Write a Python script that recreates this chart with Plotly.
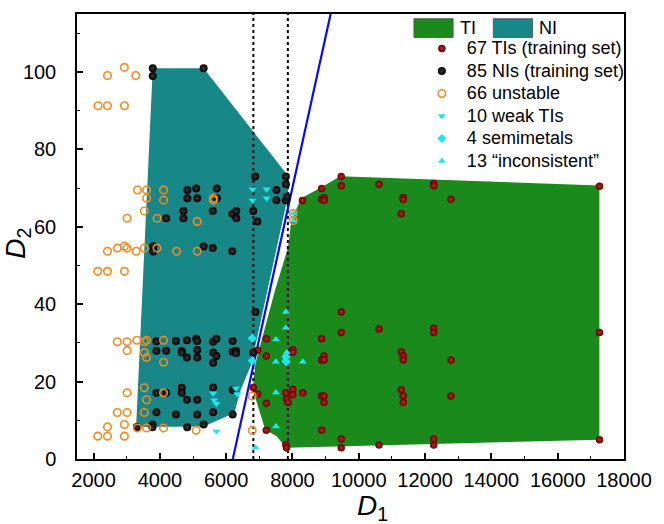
import plotly.graph_objects as go

# ---------------- data ----------------
# region boundaries (D1, D2)
ni_region_x = [3785, 5320, 7827, 7876, 6760, 6440, 6245, 5320, 3283]
ni_region_y = [101.0, 101.0, 73.6, 68.4, 24.5, 17.9, 11.9, 8.4, 8.3]
ti_region_x = [7817, 17257, 17257, 12833, 9440, 8850, 8260, 7965, 7867, 7473, 6882, 6800, 7177, 7522]
ti_region_y = [2.9, 5.0, 70.7, 72.0, 73.1, 70.1, 67.4, 61.6, 54.7, 43.6, 24.7, 18.0, 7.6, 5.9]

# boundary line and dotted thresholds
boundary_x = [6200, 9150]
boundary_y = [0, 115]
dotted_x1 = [6820, 6820]
dotted_x2 = [7860, 7860]
dotted_y = [0, 115]

# 67 TIs (training set)
ti_x = [7210, 6950, 7210, 8010, 8010, 6815, 6950, 7210, 7800, 7820, 7865, 8010, 8010, 8310,
        7210, 7800, 7820, 8880, 8950, 8880, 8950, 8880, 8950, 8950, 8880, 9470, 9470, 8880,
        8880, 8950, 8950, 8300, 10610, 12260, 12260, 11340, 11340, 11280, 12780, 9470, 9470,
        10610, 12260, 12260, 11280, 11340, 11340, 12780, 11280, 11340, 11340, 12780, 9470,
        9470, 10610, 12260, 12260, 17260, 17260, 17260]
ti_y = [31.1, 28.1, 26.6, 28.3, 27.6, 18.5, 16.8, 14.4, 17.1, 15.5, 14.6, 18.0, 16.6, 17.1,
        7.4, 3.7, 2.9, 31.1, 26.6, 25.6, 25.6, 16.3, 16.3, 14.6, 7.4, 73.0, 70.6, 69.9,
        67.1, 67.5, 66.8, 66.8, 71.0, 71.2, 70.6, 67.6, 67.1, 63.4, 67.1, 38.0, 32.7,
        33.6, 33.8, 32.7, 27.7, 26.6, 25.6, 25.6, 17.9, 16.3, 14.6, 16.3, 5.2,
        2.9, 3.6, 5.2, 3.6, 70.5, 32.7, 5.0]

# 85 NIs (training set)
ni_x = [3785, 3785, 5320, 6875, 7800, 7800, 4830, 5095, 5715, 4830, 5125, 5715, 7515, 7515,
        7800, 7830, 4710, 4190, 4710, 5595, 6185, 6305, 6305, 6815, 6940, 3800, 3800, 5320,
        5595, 6185, 3895, 4485, 4815, 5095, 5125, 3895, 4190, 4660, 4660, 5125, 4815, 5125,
        3895, 4190, 4660, 4660, 4815, 5125, 3895, 4485, 5125, 3305, 3775, 3775, 4825, 5320,
        5605, 5705, 6195, 5605, 5705, 5605, 6195, 6295, 6295, 6815, 6885, 5605, 6195, 5605,
        6195]
ni_y = [101.0, 99.0, 101.0, 73.0, 73.0, 71.0, 69.5, 69.9, 69.9, 67.4, 67.4, 67.4, 69.5, 66.9,
        66.9, 67.8, 64.1, 62.2, 62.2, 64.1, 63.4, 64.1, 62.2, 64.1, 61.4, 55.0, 53.6, 54.9,
        54.5, 53.7, 30.4, 30.5, 30.7, 31.1, 30.5, 28.0, 28.0, 27.9, 27.5, 28.2, 26.2, 26.2,
        17.1, 17.1, 18.4, 17.1, 15.3, 15.3, 12.1, 11.5, 11.5, 8.3, 8.9, 8.2, 8.2, 8.9,
        30.3, 31.1, 30.5, 27.5, 26.6, 24.9, 27.7, 28.0, 27.3, 27.5, 38.0, 18.5, 17.9, 12.1,
        11.5]

# 66 unstable
un_x = [2420, 2930, 3275, 2135, 2420, 2930, 3325, 3600, 4110, 3600, 4110, 5615, 5615, 3530,
        3010, 3915, 5125, 2420, 2715, 2930, 3010, 3285, 3530, 3915, 4505, 5125, 2125, 2420,
        2930, 8025, 8025, 2715, 3010, 3010, 3305, 3530, 3600, 4110, 3530, 3600, 4110, 3010,
        3530, 3600, 4110, 2715, 3010, 3530, 2420, 2930, 3325, 3600, 4110, 5095, 2125, 2420,
        2930, 6785, 6785]
un_y = [99.1, 101.2, 99.1, 91.3, 91.3, 91.3, 69.5, 69.5, 69.5, 67.4, 66.9, 67.4, 66.9, 64.1,
        62.2, 62.2, 61.4, 53.7, 54.5, 55.0, 54.5, 53.7, 54.5, 54.5, 53.7, 53.7, 48.5, 48.5,
        48.5, 63.5, 61.6, 30.3, 30.3, 28.0, 30.7, 30.3, 30.7, 30.7, 27.5, 26.2, 25.0, 17.1,
        18.4, 15.3, 17.1, 12.0, 12.0, 12.0, 8.3, 8.9, 8.0, 8.0, 8.0, 7.4, 5.9, 5.9,
        5.9, 16.3, 7.4]

# 10 weak TIs
weak_x = [6795, 7220, 6795, 7220, 5605, 5640, 5705, 6290, 6335, 5705]
weak_y = [69.7, 69.7, 66.9, 67.4, 17.0, 15.2, 14.3, 18.3, 16.8, 7.2]

# 4 semimetals
semi_x = [6785, 6785, 7800, 7810]
semi_y = [31.2, 25.4, 26.4, 25.1]

# 13 "inconsistent"
inc_x = [7800, 7800, 7500, 7500, 8310, 7500, 7500, 6885, 8025, 8025, 7830, 7800, 7790]
inc_y = [38.0, 33.9, 30.9, 25.1, 25.1, 17.2, 8.4, 2.9, 63.5, 61.6, 27.6, 26.9, 25.7]

x_ticks = [2000, 4000, 6000, 8000, 10000, 12000, 14000, 16000, 18000]
x_tick_labels = ["2000", "4000", "6000", "8000", "10000", "12000", "14000", "16000", "18000"]
y_ticks = [0, 20, 40, 60, 80, 100]
y_tick_labels = ["0", "20", "40", "60", "80", "100"]

legend_names = ["67 TIs (training set)", "85 NIs (training set)", "66 unstable",
                "10 weak TIs", "4 semimetals", "13 \u201cinconsistent\u201d"]

# ---------------- style ----------------
GREEN = "#1b8a1d"
TEAL = "#188787"
CYAN = "#1ee6ee"
ORANGE = "#f7891e"
FONT = "Liberation Sans, Arial, sans-serif"


def leg(name):
    return '<span style="font-size:18px">' + name + "</span>"


fig = go.Figure()

fig.add_trace(go.Scatter(x=ni_region_x, y=ni_region_y, fill="toself", fillcolor=TEAL,
                         mode="lines", line=dict(width=0, color=TEAL), showlegend=False,
                         hoverinfo="skip"))
fig.add_trace(go.Scatter(x=ti_region_x, y=ti_region_y, fill="toself", fillcolor=GREEN,
                         mode="lines", line=dict(width=0, color=GREEN), showlegend=False,
                         hoverinfo="skip"))
for dx in (dotted_x1, dotted_x2):
    fig.add_trace(go.Scatter(x=dx, y=dotted_y, mode="lines",
                             line=dict(color="black", width=2, dash="dot"),
                             showlegend=False, hoverinfo="skip"))
fig.add_trace(go.Scatter(x=boundary_x, y=boundary_y, mode="lines",
                         line=dict(color="#0a0aee", width=2.2), showlegend=False,
                         hoverinfo="skip"))

fig.add_trace(go.Scatter(x=ti_x, y=ti_y, mode="markers", name=leg(legend_names[0]),
                         marker=dict(size=7.5, color="#6a0000",
                                     gradient=dict(type="radial", color="#b02a2a"),
                                     line=dict(width=0))))
fig.add_trace(go.Scatter(x=ni_x, y=ni_y, mode="markers", name=leg(legend_names[1]),
                         marker=dict(size=8, color="#000000",
                                     gradient=dict(type="radial", color="#383838"),
                                     line=dict(width=0))))
fig.add_trace(go.Scatter(x=un_x, y=un_y, mode="markers", name=leg(legend_names[2]),
                         marker=dict(size=7.5, symbol="circle-open", color=ORANGE,
                                     line=dict(width=1.6, color=ORANGE))))
fig.add_trace(go.Scatter(x=weak_x, y=weak_y, mode="markers", name=leg(legend_names[3]),
                         marker=dict(size=7, symbol="triangle-down", color=CYAN,
                                     line=dict(width=0))))
fig.add_trace(go.Scatter(x=semi_x, y=semi_y, mode="markers", name=leg(legend_names[4]),
                         marker=dict(size=7, symbol="diamond", color=CYAN,
                                     line=dict(width=0))))
fig.add_trace(go.Scatter(x=inc_x, y=inc_y, mode="markers", name=leg(legend_names[5]),
                         marker=dict(size=7, symbol="triangle-up", color=CYAN,
                                     line=dict(width=0))))

axis_common = dict(showline=True, linecolor="black", linewidth=1.5, mirror=True,
                   ticks="inside", ticklen=6, tickwidth=1.5, tickcolor="black",
                   showgrid=False, zeroline=False,
                   tickfont=dict(family=FONT, size=20, color="black"))

fig.update_xaxes(range=[1500, 18000], tickvals=x_ticks, ticktext=x_tick_labels,
                 ticklabelstandoff=2,
                 minor=dict(ticks="inside", ticklen=3, tickwidth=1.2, dtick=1000,
                            tick0=1000, tickcolor="black"),
                 **axis_common)
fig.update_yaxes(range=[0, 115], tickvals=y_ticks, ticktext=y_tick_labels,
                 ticklabelstandoff=15,
                 minor=dict(ticks="inside", ticklen=3, tickwidth=1.2, dtick=10,
                            tick0=0, tickcolor="black"),
                 **axis_common)

# axis titles
fig.add_annotation(text="<i>D</i><sub>1</sub>", xref="paper", yref="paper",
                   x=0.54, y=-0.110, showarrow=False,
                   font=dict(family=FONT, size=28, color="black"),
                   xanchor="center", yanchor="middle")
fig.add_annotation(text="<i>D</i><sub>2</sub>", xref="paper", yref="paper",
                   x=-0.108, y=0.486, showarrow=False, textangle=-90,
                   font=dict(family=FONT, size=28, color="black"),
                   xanchor="center", yanchor="middle")


def px_to_paper_x(px):
    return (px - 77) / 558.0


def px_to_paper_y(py):
    return (459.5 - py) / 447.5


# legend header: region swatches
for x0, col, lab in ((420.7, GREEN, "TI"), (501.7, TEAL, "NI")):
    fig.add_shape(type="rect", xref="paper", yref="paper",
                  x0=px_to_paper_x(x0), x1=px_to_paper_x(x0 + 40),
                  y0=px_to_paper_y(35.7), y1=px_to_paper_y(16.7),
                  fillcolor=col, line=dict(color="#4a4a4a", width=0.8))
    fig.add_annotation(text=lab, xref="paper", yref="paper",
                       x=px_to_paper_x(x0 + 45), y=px_to_paper_y(26.5),
                       xanchor="left", yanchor="middle", showarrow=False,
                       font=dict(family=FONT, size=18, color="black"))

fig.update_layout(
    width=664, height=524,
    margin=dict(l=77, r=29, t=12, b=64.5),
    plot_bgcolor="white", paper_bgcolor="white",
    font=dict(family=FONT, color="black"),
    legend=dict(x=px_to_paper_x(423.7), y=px_to_paper_y(30.3), xanchor="left", yanchor="top",
                bgcolor="rgba(0,0,0,0)", borderwidth=0, itemwidth=40,
                font=dict(family=FONT, size=15, color="black"), tracegroupgap=0),
)

fig.write_html("out.html", config={"displayModeBar": False},
               post_script="document.body.style.margin='0';")
